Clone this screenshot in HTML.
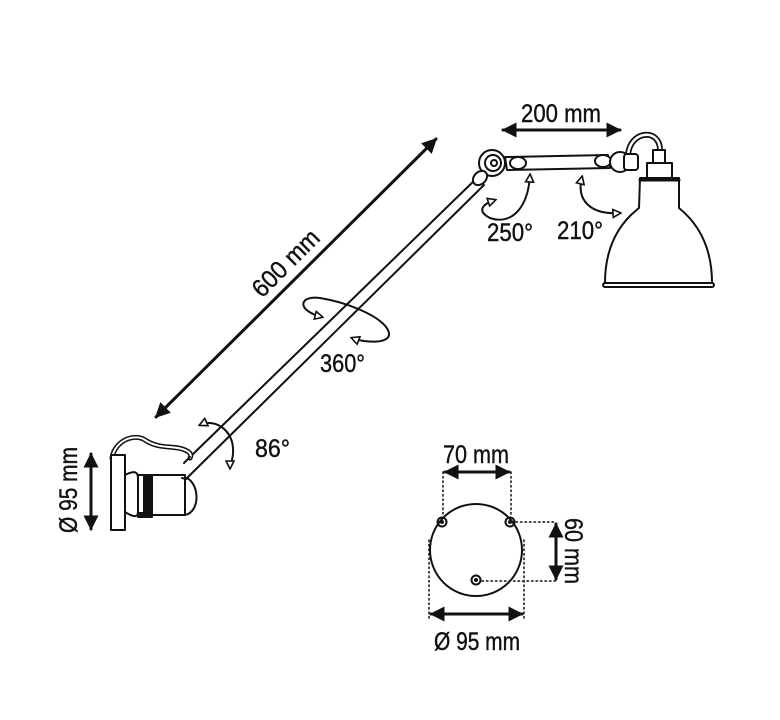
<!DOCTYPE html>
<html><head><style>
html,body{margin:0;padding:0;background:#fff;}
svg{display:block;}
text{font-family:"Liberation Sans",sans-serif;fill:#111;}
</style></head><body>
<svg width="780" height="720" viewBox="0 0 780 720" xmlns="http://www.w3.org/2000/svg">
<defs>
<marker id="ah" viewBox="0 0 10 10" refX="9" refY="5" markerWidth="5" markerHeight="5" orient="auto-start-reverse">
<path d="M0,0 L10,5 L0,10 Z" fill="#111"/></marker>
<marker id="oh" viewBox="0 0 10 10" refX="8" refY="5" markerWidth="5" markerHeight="5" orient="auto-start-reverse">
<path d="M1,1 L9,5 L1,9 Z" fill="#fff" stroke="#111" stroke-width="1.6"/></marker>
</defs>
<g stroke="#111" stroke-width="2" fill="none" stroke-linecap="round" stroke-linejoin="round">
<line x1="156" y1="417" x2="436" y2="139" stroke-width="3" marker-start="url(#ah)" marker-end="url(#ah)"/>
<line x1="503" y1="130" x2="620" y2="130" stroke-width="3" marker-start="url(#ah)" marker-end="url(#ah)"/>
<line x1="91" y1="454" x2="91" y2="529" stroke-width="3" marker-start="url(#ah)" marker-end="url(#ah)"/>

<line x1="190" y1="457" x2="479" y2="176"/>
<line x1="186" y1="479" x2="484" y2="185"/>
<circle cx="492" cy="163" r="13" fill="#fff"/>
<circle cx="493" cy="163" r="8"/>
<circle cx="494" cy="163" r="3"/>
<ellipse cx="480" cy="178" rx="6" ry="8" transform="rotate(45 480 178)" fill="#fff"/>
<path d="M505,157 L608,155 L610,168 L507,170 Z" fill="#fff"/>
<ellipse cx="518" cy="163" rx="8" ry="6" fill="#fff"/>
<ellipse cx="603" cy="161" rx="8" ry="6" fill="#fff"/>
<path d="M628,155 C630,130 660,128 660,150" stroke-width="6"/>
<path d="M628,155 C630,130 660,128 660,150" stroke="#fff" stroke-width="2.5"/>
<circle cx="620" cy="162" r="10" fill="#fff"/>
<rect x="624" y="154" width="14" height="16" rx="3" fill="#fff"/>
<rect x="653" y="150" width="12" height="13" fill="#fff"/>
<rect x="647" y="163" width="25" height="16" fill="#fff"/>
<path d="M640,178 L679,178 L679,208 C700,225 712,250 712,283 L605,283 C605,250 617,225 639,208 Z" fill="#fff"/>
<path d="M640,180 L679,180" stroke-width="3"/>
<rect x="603" y="283" width="111" height="4" rx="2" fill="#fff"/>

<path d="M112,458 C115,440 135,433 145,440 C160,450 175,445 185,450 C190,452 192,455 190,458" stroke-width="5"/>
<path d="M112,458 C115,440 135,433 145,440 C160,450 175,445 185,450 C190,452 192,455 190,458" stroke="#fff" stroke-width="2"/>
<rect x="111" y="455" width="14" height="75" fill="#fff"/>
<path d="M125,475 C135,470 138,472 138,478 L138,512 C138,518 133,517 125,512"/>
<path d="M187,478 C200,485 200,512 185,515" fill="#fff"/>
<rect x="138" y="475" width="47" height="40" fill="#fff"/>
<rect x="144" y="475" width="8" height="40" fill="#111"/>
<rect x="138" y="513" width="14" height="4" fill="#111"/>
<path d="M184,463 L190,457 M182,478 L186,479"/>

<path d="M200,425 C215,418 232,430 233,448 C234,458 230,465 230,468" marker-start="url(#oh)" marker-end="url(#oh)"/>
<path d="M322,317 C295,310 300,295 320,298 C345,302 380,315 388,330 C395,345 365,343 352,338" marker-start="url(#oh)" marker-end="url(#oh)"/>
<path d="M495,200 C480,205 478,212 490,218 C510,225 528,210 530,175" marker-start="url(#oh)" marker-end="url(#oh)"/>
<path d="M582,177 C576,200 590,215 620,213" marker-start="url(#oh)" marker-end="url(#oh)"/>

<circle cx="476" cy="550" r="46"/>
<circle cx="442" cy="522" r="4.5"/><circle cx="442" cy="522" r="1" fill="#111"/>
<circle cx="510" cy="522" r="4.5"/><circle cx="510" cy="522" r="1" fill="#111"/>
<circle cx="476" cy="580" r="4.5"/><circle cx="476" cy="580" r="1" fill="#111"/>
<g stroke-width="1.5" stroke-dasharray="1.5,3">
<line x1="443" y1="472" x2="443" y2="516"/>
<line x1="511" y1="472" x2="511" y2="516"/>
<line x1="516" y1="522" x2="556" y2="522"/>
<line x1="482" y1="581" x2="556" y2="581"/>
<line x1="429" y1="540" x2="429" y2="618"/>
<line x1="524" y1="540" x2="524" y2="618"/>
</g>
<line x1="445" y1="472" x2="509" y2="472" stroke-width="3" marker-start="url(#ah)" marker-end="url(#ah)"/>
<line x1="556" y1="524" x2="556" y2="579" stroke-width="3" marker-start="url(#ah)" marker-end="url(#ah)"/>
<line x1="431" y1="614" x2="522" y2="614" stroke-width="3" marker-start="url(#ah)" marker-end="url(#ah)"/>
</g>

<g font-size="25" stroke="#111" stroke-width="0.4">
<text x="521" y="122" textLength="80" lengthAdjust="spacingAndGlyphs">200 mm</text>
<text x="243" y="271" textLength="84" lengthAdjust="spacingAndGlyphs" transform="rotate(-45 286 262)">600 mm</text>
<text x="320" y="372" textLength="45" lengthAdjust="spacingAndGlyphs">360°</text>
<text x="487" y="241" textLength="46" lengthAdjust="spacingAndGlyphs">250°</text>
<text x="557" y="239" textLength="46" lengthAdjust="spacingAndGlyphs">210°</text>
<text x="255" y="457" textLength="35" lengthAdjust="spacingAndGlyphs">86°</text>
<text x="25" y="499" textLength="86" lengthAdjust="spacingAndGlyphs" transform="rotate(-90 68 490)">Ø 95 mm</text>
<text x="443" y="463" textLength="66" lengthAdjust="spacingAndGlyphs">70 mm</text>
<text x="541" y="560" textLength="66" lengthAdjust="spacingAndGlyphs" transform="rotate(90 574 551)">60 mm</text>
<text x="434" y="650" textLength="86" lengthAdjust="spacingAndGlyphs">Ø 95 mm</text>
</g>
</svg>
</body></html>
